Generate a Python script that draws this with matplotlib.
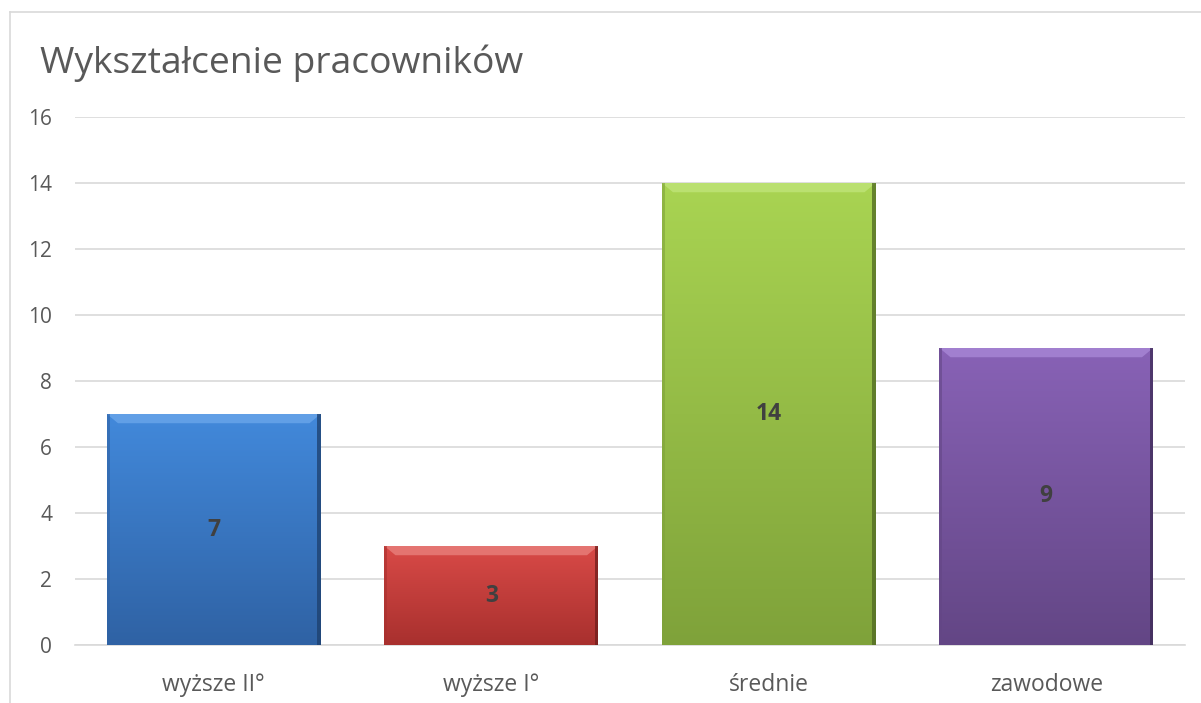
import matplotlib
matplotlib.use("Agg")
import matplotlib.pyplot as plt
import numpy as np
from matplotlib.colors import LinearSegmentedColormap
from matplotlib.patches import Polygon
from matplotlib.lines import Line2D

categories = ["wyższe II°", "wyższe I°", "średnie", "zawodowe"]
values = [7, 3, 14, 9]
title = "Wykształcenie pracowników"
yticks = [0, 2, 4, 6, 8, 10, 12, 14, 16]
top_colors = ["#4289db", "#d94a47", "#a9d452", "#8862b6"]
bottom_colors = ["#2f62a4", "#a8302e", "#7fa23a", "#634685"]
highlight_colors = ["#6aa6ea", "#e8807c", "#bfe479", "#a887d6"]
edge_colors = ["#1d3f6c", "#6f1d1b", "#4f6822", "#3c2a55"]

plt.rcParams['font.family'] = ['Open Sans', 'DejaVu Sans']

fig = plt.figure(figsize=(12.01, 7.03), dpi=100)
ax = fig.add_axes([75/1201, 58/703, 1110/1201, 528/703])

x = np.arange(len(categories))
width = 0.77
bars = ax.bar(x, values, width=width, color="none", edgecolor="none", zorder=3)

ax.set_xlim(-0.5, len(categories) - 0.5)
ax.set_ylim(0, 16)

for i, (b, v) in enumerate(zip(bars, values)):
    x0 = b.get_x(); x1 = x0 + b.get_width()
    cmap = LinearSegmentedColormap.from_list("g", [bottom_colors[i], top_colors[i]])
    grad = np.linspace(0, 1, 256).reshape(-1, 1)
    im = ax.imshow(grad, cmap=cmap, origin="lower", aspect="auto",
                   extent=(x0, x1, 0, v), zorder=3)
    im.set_clip_path(b)
    # bevel top highlight
    dx = 0.04
    dy = 0.28
    ax.add_patch(Polygon([(x0, v), (x1, v), (x1 - dx, v - dy), (x0 + dx, v - dy)],
                         closed=True, facecolor=highlight_colors[i], edgecolor="none",
                         alpha=0.8, zorder=4))
    # right dark edge
    ax.add_patch(Polygon([(x1, v), (x1, 0), (x1 - 0.012, 0), (x1 - 0.012, v)],
                         closed=True, facecolor=edge_colors[i], edgecolor="none",
                         alpha=0.75, zorder=4))
    # left slight shade
    ax.add_patch(Polygon([(x0, v), (x0, 0), (x0 + 0.01, 0), (x0 + 0.01, v)],
                         closed=True, facecolor=bottom_colors[i], edgecolor="none",
                         alpha=0.6, zorder=4))
    ax.text(x[i], v / 2, str(v), ha="center", va="center", fontsize=16.5,
            fontweight="bold", color="#404040", zorder=5)

ax.set_yticks(yticks)
ax.set_xticks(x)
ax.set_xticklabels(categories, fontsize=16.5, color="#595959")
ax.tick_params(axis="y", labelsize=15, labelcolor="#595959", length=0, pad=16.5)
ax.tick_params(axis="x", length=0, pad=20)
ax.grid(axis="y", color="#d9d9d9", linewidth=1.2, zorder=0)
ax.set_axisbelow(True)
for s in ["top", "right", "left"]:
    ax.spines[s].set_visible(False)
ax.spines["bottom"].set_color("#d9d9d9")
ax.spines["bottom"].set_linewidth(1.2)

fig.text(40/1201, 1 - 63/703, title, fontsize=26.8, color="#595959", ha="left", va="center")

# chart border (left and top)
fig.add_artist(Line2D([10/1201, 10/1201], [0, 1 - 12/703], color="#d9d9d9", linewidth=1.2,
                      transform=fig.transFigure))
fig.add_artist(Line2D([10/1201, 1], [1 - 12/703, 1 - 12/703], color="#d9d9d9", linewidth=1.2,
                      transform=fig.transFigure))

fig.savefig("out.png", dpi=100)
